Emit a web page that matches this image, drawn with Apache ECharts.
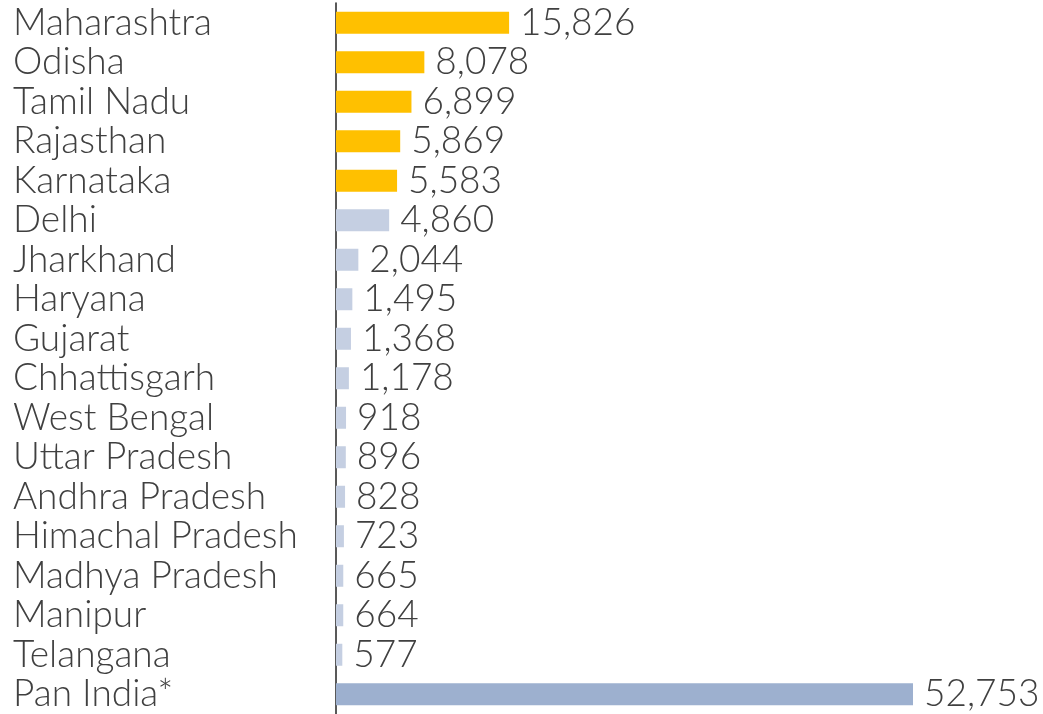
<!DOCTYPE html>
<html>
<head>
<meta charset="utf-8">
<script src="https://cdn.jsdelivr.net/npm/echarts@6/dist/echarts.min.js"></script>
<style>
  html, body { margin: 0; padding: 0; background: #fff; }
  #chart { width: 1043px; height: 714px; }
</style>
</head>
<body>
<div id="chart"></div>
<script>
// states, top to bottom
var states = ["Maharashtra", "Odisha", "Tamil Nadu", "Rajasthan", "Karnataka", "Delhi",
  "Jharkhand", "Haryana", "Gujarat", "Chhattisgarh", "West Bengal", "Uttar Pradesh",
  "Andhra Pradesh", "Himachal Pradesh", "Madhya Pradesh", "Manipur", "Telangana", "Pan India*"];
var values = [15826, 8078, 6899, 5869, 5583, 4860, 2044, 1495, 1368, 1178, 918, 896,
  828, 723, 665, 664, 577, 52753];
// how many bars on top get the highlight colour
var topCount = 5;

(function () {
  var myChart = echarts.init(document.getElementById("chart"));
  var font = "Lato";

  var data = values.map(function (v, i) {
    var c = "#c5cfe2";
    if (i < topCount) c = "#ffc000";
    if (i === values.length - 1) c = "#9db0cf";
    return { value: v, itemStyle: { color: c } };
  });

  var option = {
    animation: false,
    grid: { left: 336, right: 130, top: 3, height: 713 },
    xAxis: {
      type: "value",
      min: 0,
      max: "dataMax",
      show: false
    },
    yAxis: {
      type: "category",
      data: states,
      inverse: true,
      axisTick: { show: false },
      axisLine: { lineStyle: { color: "#222", width: 1.5 } },
      axisLabel: {
        interval: 0,
        align: "left",
        margin: 323,
        color: "#404040",
        fontFamily: font,
        fontWeight: 300,
        fontSize: 37
      }
    },
    series: [{
      type: "bar",
      data: data,
      barWidth: 22,
      label: {
        show: true,
        position: "right",
        distance: 11,
        color: "#404040",
        fontFamily: font,
        fontWeight: 300,
        fontSize: 37,
        formatter: function (p) { return p.value.toLocaleString("en-US"); }
      }
    }]
  };
  myChart.setOption(option);
})();
</script>
</body>
</html>
